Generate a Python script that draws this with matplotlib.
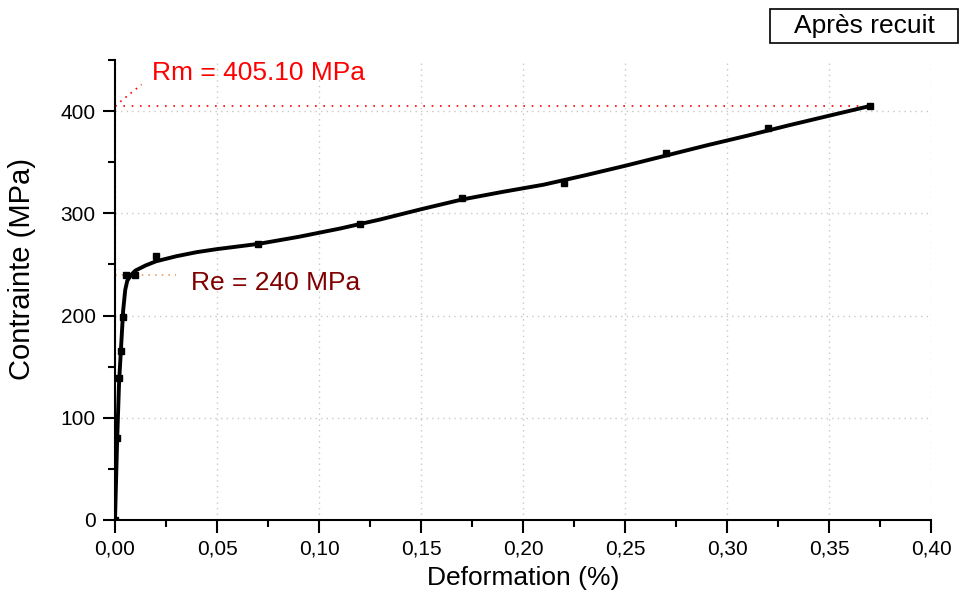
import matplotlib.pyplot as plt
from matplotlib.patches import Rectangle
from matplotlib.ticker import MultipleLocator, FuncFormatter

plt.rcParams['font.family'] = ['Liberation Sans', 'DejaVu Sans']

# measured points
strain = [0.0, 0.001, 0.002, 0.003, 0.004, 0.0055, 0.0098, 0.02, 0.07, 0.12, 0.17, 0.22, 0.27, 0.32, 0.37]
stress = [0, 80, 139, 165, 199, 240, 240, 258, 270, 290, 315, 330, 359, 383, 405.1]

# fitted curve
fit_strain = [0.0, 0.001, 0.002, 0.003, 0.004, 0.005, 0.006, 0.008, 0.01, 0.015, 0.02, 0.03, 0.04, 0.05,
              0.07, 0.09, 0.11, 0.13, 0.15, 0.17, 0.19, 0.21, 0.23, 0.25, 0.27, 0.29, 0.31, 0.33, 0.35, 0.37]
fit_stress = [0, 75, 135, 170, 205, 225, 234, 240, 244, 249, 253, 258, 262, 265,
              270, 277, 285, 294, 304, 313.5, 321, 328, 337, 346.5, 356.5, 366.5, 376, 386, 395.5, 405]

rm = 405.10
re = 240

fig = plt.figure(figsize=(9.6, 5.94), dpi=100)
ax = fig.add_axes([0.1198, 0.1246, 0.8502, 0.7744])

ax.plot(fit_strain, fit_stress, color='black', lw=2.8, zorder=3, solid_joinstyle='round')
ax.plot(strain, stress, 's', color='black', ms=5, zorder=4)

# Rm guide lines
ax.plot([0, 0.37], [rm, rm], color='red', ls=(0, (1, 4)), lw=1.2, zorder=2)
ax.plot([0.0, 0.013], [rm, 426], color='red', ls=(0, (1, 3)), lw=1.2, zorder=2)
ax.text(0.018, 437, 'Rm = 405.10 MPa', color='red', fontsize=19, va='center')

# Re guide line
ax.plot([0, 0.03], [re, re], color='#f0a060', ls=(0, (1, 3)), lw=1.2, zorder=2)
ax.text(0.037, 232, 'Re = 240 MPa', color='#800000', fontsize=19, va='center')

ax.set_xlim(0, 0.40)
ax.set_ylim(0, 450)
ax.xaxis.set_major_locator(MultipleLocator(0.05))
ax.xaxis.set_minor_locator(MultipleLocator(0.025))
ax.yaxis.set_major_locator(MultipleLocator(100))
ax.yaxis.set_minor_locator(MultipleLocator(50))
ax.xaxis.set_major_formatter(FuncFormatter(lambda v, p: ('%.2f' % v).replace('.', ',')))

ax.spines['top'].set_visible(False)
ax.spines['right'].set_visible(False)
ax.spines['left'].set_linewidth(1.5)
ax.spines['bottom'].set_linewidth(1.5)
ax.tick_params(which='major', direction='out', length=9, width=1.5, labelsize=15, pad=5)
ax.tick_params(which='minor', direction='out', length=5, width=1.5)

ax.grid(True, which='major', color='#c8c8c8', ls=(0, (1, 3)), lw=1)

ax.set_xlabel('Deformation (%)', fontsize=19, va='center')
ax.xaxis.set_label_coords(0.5, -0.126)
ax.set_ylabel('Contrainte (MPa)', fontsize=21, va='center')
ax.yaxis.set_label_coords(-0.114, 0.546)

# legend box
fig.patches.append(Rectangle((0.802, 0.9276), 0.196, 0.0572, transform=fig.transFigure,
                             fc='white', ec='black', lw=1.2))
fig.text(0.9, 0.956, 'Après recuit', fontsize=19, ha='center', va='center')

fig.savefig('out.png', dpi=100)
